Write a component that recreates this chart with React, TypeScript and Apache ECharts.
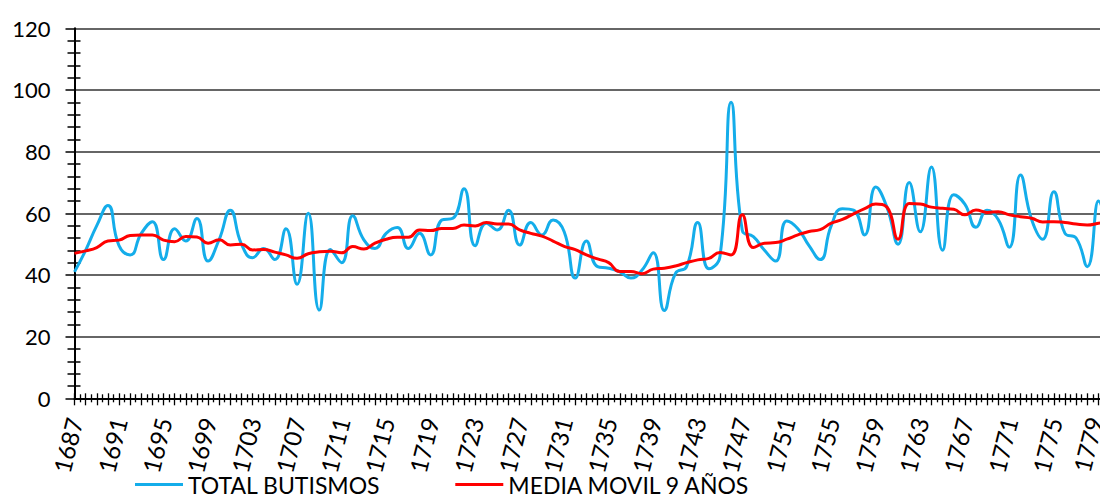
import React, { useEffect, useRef } from "react";
import * as echarts from "echarts";

const years = [
  "1687", "1688", "1689", "1690", "1691", "1692", "1693", "1694", "1695", "1696",
  "1697", "1698", "1699", "1700", "1701", "1702", "1703", "1704", "1705", "1706",
  "1707", "1708", "1709", "1710", "1711", "1712", "1713", "1714", "1715", "1716",
  "1717", "1718", "1719", "1720", "1721", "1722", "1723", "1724", "1725", "1726",
  "1727", "1728", "1729", "1730", "1731", "1732", "1733", "1734", "1735", "1736",
  "1737", "1738", "1739", "1740", "1741", "1742", "1743", "1744", "1745", "1746",
  "1747", "1748", "1749", "1750", "1751", "1752", "1753", "1754", "1755", "1756",
  "1757", "1758", "1759", "1760", "1761", "1762", "1763", "1764", "1765", "1766",
  "1767", "1768", "1769", "1770", "1771", "1772", "1773", "1774", "1775", "1776",
  "1777", "1778", "1779", "1780",
];

const totalButismos = [
  41, 48, 56, 62.5, 49.5, 46.5, 53.5, 57.3, 45, 55,
  51, 58.3, 44.5, 51.5, 61, 50, 45.6, 48.6, 45, 55,
  37, 60, 28.6, 48.3, 44, 59.2, 51.4, 48.6, 53.5, 55.4,
  48.6, 53.5, 46.5, 57.8, 58.4, 68, 49.5, 56.8, 54.6, 61,
  49.7, 57, 53, 57.8, 54, 39, 51, 42.7, 42.2, 41,
  39, 41.6, 47.2, 28.5, 40.5, 42.7, 57, 42, 46, 96,
  54.5, 52.4, 48, 44.5, 57.5, 55, 49.5, 45, 56, 61.5,
  61, 53, 68.5, 62, 50, 70, 54, 75, 48, 66,
  63, 55.5, 61, 58, 49, 72.4, 58, 51.6, 67, 53.5,
  52, 42.7, 64, 40,
];

const mediaMovil = [
  47, 47.8, 48.9, 51, 51.3, 52.8, 53, 53, 51.3, 50.8,
  52.5, 52.3, 50.3, 51.4, 49.7, 50, 48.1, 48.3, 47.4, 46.5,
  45.4, 46.9, 47.5, 47.7, 47.2, 49.2, 48.4, 50.3, 51.6, 52.2,
  52.2, 54.6, 54.4, 55.1, 55.1, 56.2, 55.9, 57, 56.5, 56.5,
  54.6, 53.5, 52.6, 51, 49.3, 48.2, 46.5, 45.2, 44, 41.1,
  41.1, 40.4, 41.9, 42.2, 42.9, 44, 44.9, 45.4, 47.3, 46.5,
  59.5, 48.9, 50.3, 50.5, 51.6, 53, 54.1, 54.7, 56.8, 58,
  59.8, 61.5, 63, 62, 51.6, 63.2, 63, 62, 61.6, 61.3,
  59.5, 61.1, 60.3, 60.5, 59.5, 58.9, 58.4, 57.2, 57.3, 57,
  56.5, 56.2, 56.8, 57.3,
];

const seriesNames = ["TOTAL BUTISMOS", "MEDIA MOVIL 9 AÑOS"];
const yMin = 0;
const yMax = 120;
const yStep = 20;
const lastLabelledYear = "1779";

export default function App() {
  const ref = useRef<HTMLDivElement>(null);

  useEffect(() => {
    if (!ref.current) return;
    const chart = echarts.init(ref.current, null, { renderer: "svg" });
    const tickColor = "#000";
    const lastIdx = years.length - 1;
    const tickAxisBase = {
      type: "value",
      min: 0,
      max: lastIdx,
      interval: 1,
      position: "bottom",
      axisLine: { show: false, onZero: false },
      axisLabel: { show: false },
      splitLine: { show: false },
      minorSplitLine: { show: false },
    };
    chart.setOption({
      animation: false,
      backgroundColor: "#ffffff",
      textStyle: { fontFamily: "Lato", color: "#000" },
      grid: {
        left: 66.5,
        right: 28.5,
        top: 20.3,
        bottom: 101.7,
        containLabel: false,
        outerBoundsMode: "none",
      },
      legend: {
        left: 127,
        top: 465,
        padding: 0,
        icon: "rect",
        itemWidth: 48,
        itemHeight: 3,
        itemGap: 75,
        textStyle: { fontSize: 23, lineHeight: 20, color: "#000", fontFamily: "Lato" },
        data: seriesNames,
      },
      xAxis: [
        {
          type: "category",
          data: years,
          boundaryGap: false,
          position: "bottom",
          axisLine: { onZero: false, lineStyle: { color: "#000", width: 2 } },
          axisTick: { show: false },
          axisLabel: {
            interval: 3,
            rotate: 76,
            fontSize: 24,
            lineHeight: 18,
            color: "#000",
            margin: 20,
            fontFamily: "Lato",
            formatter: (v: string) => (v === lastLabelledYear ? `{last|${v}}` : v),
            rich: {
              last: {
                fontSize: 24,
                lineHeight: 18,
                fontFamily: "Lato",
                color: "#000",
                padding: [0, 0, 8, 0],
              },
            },
          },
          splitLine: { show: false },
        },
        {
          ...tickAxisBase,
          axisTick: { show: true, inside: false, length: 7, lineStyle: { color: tickColor, width: 1.3 } },
          minorTick: { show: true, splitNumber: 2, length: 4, lineStyle: { color: tickColor, width: 1.3 } },
        },
        {
          ...tickAxisBase,
          axisTick: { show: true, inside: true, length: 5, lineStyle: { color: tickColor, width: 1.3 } },
          minorTick: { show: true, splitNumber: 2, length: 4, lineStyle: { color: tickColor, width: 1.3 } },
        },
      ],
      yAxis: [
        {
          type: "value",
          min: yMin,
          max: yMax,
          interval: yStep,
          position: "left",
          axisLine: { show: true, onZero: false, lineStyle: { color: "#000", width: 2 } },
          axisTick: { show: true, length: 9, lineStyle: { color: tickColor, width: 1.5 } },
          minorTick: { show: true, splitNumber: 5, length: 7, lineStyle: { color: tickColor, width: 1.5 } },
          axisLabel: { fontSize: 22, color: "#000", margin: 24, fontFamily: "Lato" },
          splitLine: { show: true, lineStyle: { color: "#333333", width: 1.6 } },
        },
        {
          type: "value",
          min: yMin,
          max: yMax,
          interval: yStep,
          position: "left",
          axisLine: { show: false, onZero: false },
          axisTick: { show: false, inside: true },
          minorTick: { show: true, splitNumber: 5, length: 6, lineStyle: { color: tickColor, width: 1.5 } },
          axisLabel: { show: false },
          splitLine: { show: false },
        },
      ],
      series: [
        {
          name: seriesNames[0],
          type: "line",
          data: totalButismos,
          smooth: 0.5,
          symbol: "none",
          lineStyle: { color: "#14adea", width: 3 },
          itemStyle: { color: "#14adea" },
          z: 2,
        },
        {
          name: seriesNames[1],
          type: "line",
          data: mediaMovil,
          smooth: 0.5,
          symbol: "none",
          lineStyle: { color: "#ff0000", width: 3 },
          itemStyle: { color: "#ff0000" },
          z: 3,
        },
      ],
    });
    return () => chart.dispose();
  }, []);

  return (
    <div style={{ width: 1100, height: 492, overflow: "hidden", background: "#fff" }}>
      <div ref={ref} style={{ width: 1130, height: 492 }} />
    </div>
  );
}
